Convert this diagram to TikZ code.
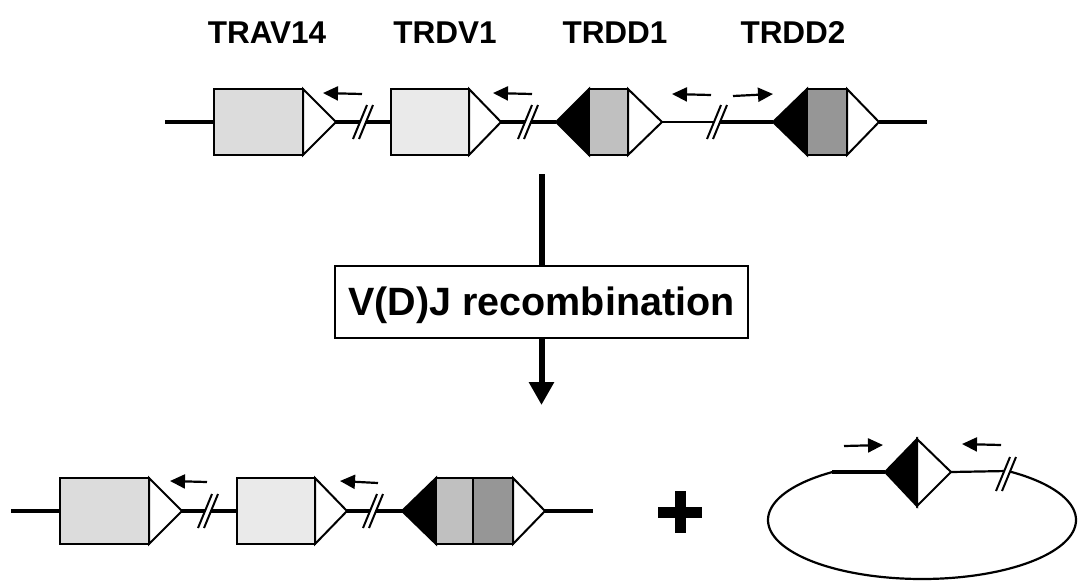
\documentclass[tikz,border=0pt]{standalone}
\usepackage{fontspec}
\setmainfont{Liberation Sans}
\usetikzlibrary{arrows.meta}
\definecolor{gA}{HTML}{DCDCDC}
\definecolor{gB}{HTML}{EAEAEA}
\definecolor{dA}{HTML}{C0C0C0}
\definecolor{dB}{HTML}{969696}
\tikzset{
  dna/.style={line width=3.4pt},
  dnathin/.style={line width=2.2pt},
  seg/.style={draw=black, line width=2pt, line join=miter},
  rssarrow/.style={-{Triangle[length=15pt,width=14pt]}, line width=2.2pt},
  brkline/.style={line width=2pt},
  genelabel/.style={font=\fontsize{31.5}{36}\selectfont\bfseries, anchor=base, inner sep=0pt},
  stepbox/.style={draw, line width=2.2pt, fill=white, minimum width=413pt, minimum height=72pt,
    inner sep=0pt, text height=27pt, text depth=0pt, font=\fontsize{39.5}{44}\selectfont\bfseries},
  bigarrow/.style={line width=6pt},
}
% break mark: x y
\newcommand\genebreak[2]{%
  \fill[white] ({#1-10},{#2+17}) -- ({#1+4},{#2-17}) -- ({#1+10},{#2-17}) -- ({#1-4},{#2+17}) -- cycle;
  \draw[brkline] ({#1-10},{#2+17}) -- ({#1+4},{#2-17}) ({#1-4},{#2+17}) -- ({#1+10},{#2-17});
}
% V segment: box x1..x2, triangle tip x3, centre y, fill
\newcommand\vseg[5]{%
  \filldraw[seg, fill=#5] (#1,{#4-33}) rectangle (#2,{#4+33});
  \filldraw[seg, fill=white] (#2,{#4-33}) -- (#3,#4) -- (#2,{#4+33}) -- cycle;
}
% black left triangle: tip x1, base x2, centre y
\newcommand\lrss[3]{%
  \filldraw[seg, fill=black] (#2,{#3-33}) -- (#1,#3) -- (#2,{#3+33}) -- cycle;
}
\newcommand\dbox[4]{%
  \filldraw[seg, fill=#4] (#1,{#3-33}) rectangle (#2,{#3+33});
}
\newcommand\rrss[3]{%
  \filldraw[seg, fill=white] (#1,{#3-33}) -- (#2,#3) -- (#1,{#3+33}) -- cycle;
}
\begin{document}
\begin{tikzpicture}[x=1pt,y=-1pt]
\useasboundingbox[fill=white] (0,0) rectangle (1078,582);

% labels
\node[genelabel] (lA) at (267,43) {TRAV14};
\node[genelabel] (lB) at (445,43) {TRDV1};
\node[genelabel] (lC) at (615,43) {TRDD1};
\node[genelabel] (lD) at (793,43) {TRDD2};

% ---------- top row ----------
\draw[dna] (165,122) -- (556,122);
\draw[dnathin] (662,122) -- (717,122);
\draw[dna] (717,122) -- (773,122);
\draw[dna] (879,122) -- (927,122);
\vseg{214}{303}{336}{122}{gA}
\vseg{391}{469}{501}{122}{gB}
\lrss{556}{589}{122}
\dbox{589}{628}{122}{dA}
\rrss{628}{662}{122}
\lrss{773}{807}{122}
\dbox{807}{847}{122}{dB}
\rrss{847}{879}{122}
\genebreak{363}{122}
\genebreak{528}{122}
\genebreak{717}{122}
\coordinate (a1s) at (362,94); \coordinate (a1e) at (323,93);
\coordinate (a2s) at (532,94); \coordinate (a2e) at (493,93);
\coordinate (a3s) at (711,95); \coordinate (a3e) at (672,94);
\coordinate (a4s) at (733,96); \coordinate (a4e) at (773,94);
\draw[rssarrow] (a1s) -- (a1e);
\draw[rssarrow] (a2s) -- (a2e);
\draw[rssarrow] (a3s) -- (a3e);
\draw[rssarrow] (a4s) -- (a4e);

% ---------- recombination ----------
\node[stepbox] (rec) at (541.5,302) {V(D)J recombination};
\coordinate (vtop) at (rec.north |- 0,174);
\coordinate (vbot) at (rec.south |- 0,405);
\draw[bigarrow] (vtop) -- (rec.north);
\draw[bigarrow, -{Triangle[length=23pt,width=24pt]}, shorten >=0pt] (rec.south) -- (vbot);

% ---------- bottom row ----------
\draw[dna] (11,511) -- (593,511);
\vseg{60}{149}{182}{511}{gA}
\vseg{237}{315}{347}{511}{gB}
\lrss{402}{436}{511}
\dbox{436}{473}{511}{dA}
\dbox{473}{513}{511}{dB}
\rrss{513}{545}{511}
\genebreak{208}{511}
\genebreak{373}{511}
\coordinate (b1s) at (207,482); \coordinate (b1e) at (170,481);
\coordinate (b2s) at (378,483); \coordinate (b2e) at (340,481);
\draw[rssarrow] (b1s) -- (b1e);
\draw[rssarrow] (b2s) -- (b2e);

% plus sign
\fill (658,506.5) rectangle (702,517.5);
\fill (674.5,491) rectangle (685.5,533);

% ---------- excision circle ----------
\draw[line width=2.2pt] plot[domain=-56.5:234.3, samples=120, smooth] ({922+154*cos(\x)},{520+59*sin(\x)});
\draw[dna] (832,472) -- (885,472);
\draw[dnathin] (951,472) -- (1007,471);
\filldraw[seg, fill=black] (917,439) -- (885,472) -- (917,506) -- cycle;
\filldraw[seg, fill=white] (917,439) -- (951,472) -- (917,506) -- cycle;
\genebreak{1006}{474}
\coordinate (c1s) at (844,446); \coordinate (c1e) at (883,445);
\coordinate (c2s) at (1001,445); \coordinate (c2e) at (962,444);
\draw[rssarrow] (c1s) -- (c1e);
\draw[rssarrow] (c2s) -- (c2e);
\end{tikzpicture}
\end{document}
